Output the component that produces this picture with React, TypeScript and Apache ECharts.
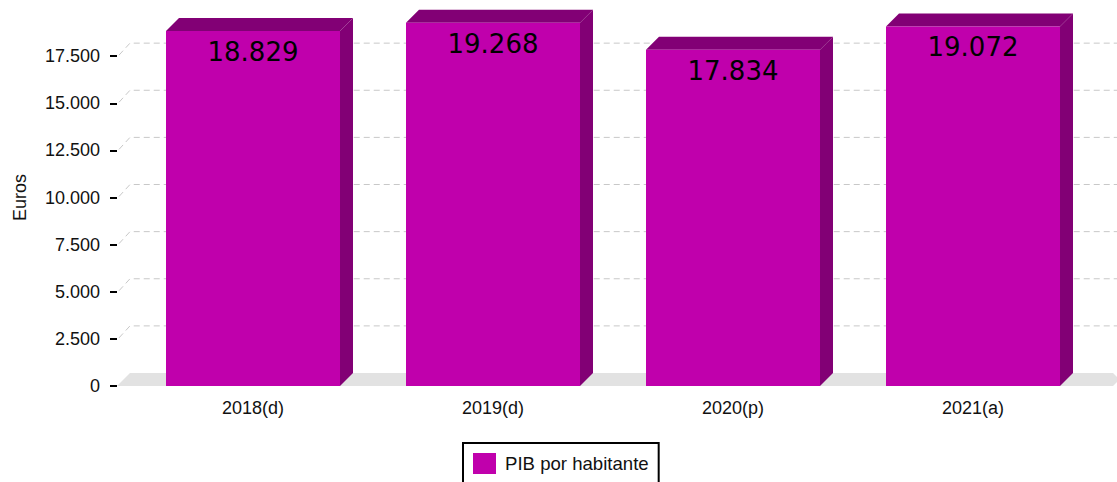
import React, { useEffect, useRef } from "react";
import * as echarts from "echarts";

const categories = ["2018(d)", "2019(d)", "2020(p)", "2021(a)"];
const values = [18829, 19268, 17834, 19072];
const yTicks = [0, 2500, 5000, 7500, 10000, 12500, 15000, 17500];
const seriesName = "PIB por habitante";
const yAxisName = "Euros";

const FRONT = "#C000AC";
const DARK = "#820075";
const DEPTH = 13;
const FONT = '"Liberation Sans", Arial, sans-serif';

const fmt = (v: number) => String(Math.round(v)).replace(/\B(?=(\d{3})+(?!\d))/g, ".");

export default function App() {
  const ref = useRef<HTMLDivElement>(null);
  useEffect(() => {
    if (!ref.current) return;
    const chart = echarts.init(ref.current, undefined, { renderer: "svg" });
    const option: any = {
      animation: false,
      backgroundColor: "#fff",
      grid: { left: 133, right: 24, top: 9, bottom: 96, containLabel: false },
      legend: {
        show: true,
        left: 463,
        top: 443,
        data: [{ name: seriesName, icon: "rect" }],
        itemWidth: 23,
        itemHeight: 21,
        padding: [10, 10, 14, 10],
        borderColor: "#000",
        borderWidth: 2,
        textStyle: { fontSize: 18.6, color: "#111", fontFamily: FONT, padding: [0, 0, 0, 4] },
        selectedMode: false,
      },
      xAxis: {
        type: "category",
        data: categories,
        axisLine: { show: false },
        axisTick: { show: false },
        axisLabel: { fontSize: 18, color: "#111", fontFamily: FONT, margin: 13 },
      },
      yAxis: {
        type: "value",
        min: 0,
        max: 20000,
        interval: 2500,
        offset: 16,
        name: yAxisName,
        nameLocation: "middle",
        nameGap: 88,
        nameTextStyle: { fontSize: 18, color: "#111", fontFamily: FONT },
        axisLine: { show: false },
        axisTick: {
          show: true,
          length: 7,
          customValues: yTicks,
          lineStyle: { color: "#000", width: 2 },
        },
        axisLabel: {
          customValues: yTicks,
          margin: 17,
          fontSize: 18,
          color: "#111",
          fontFamily: FONT,
          formatter: (v: number) => fmt(v),
        },
        splitLine: { show: false },
      },
      series: [
        {
          type: "custom",
          name: "floor",
          silent: true,
          z: 1,
          data: [[0, 0]],
          renderItem: (params: any, api: any) => {
            const cs = params.coordSys;
            const base = api.coord([0, 0])[1];
            const left = cs.x - 16;
            const W = api.getWidth();
            return {
              type: "polygon",
              shape: {
                points: [
                  [left, base],
                  [left + DEPTH, base - DEPTH],
                  [W - 4, base - DEPTH],
                  [W, base - DEPTH + 4],
                  [W, base - 4],
                  [W - 4, base],
                ],
              },
              style: { fill: "#e2e2e2" },
            };
          },
        },
        {
          type: "custom",
          name: "grid",
          silent: true,
          z: 2,
          data: yTicks.filter((v) => v > 0).map((v) => [0, v]),
          renderItem: (params: any, api: any) => {
            const cs = params.coordSys;
            const y = api.coord([0, api.value(1)])[1];
            const left = cs.x - 16;
            const W = api.getWidth();
            return {
              type: "polyline",
              shape: {
                points: [
                  [left + 2, y - 1],
                  [left + DEPTH, y - DEPTH],
                  [W, y - DEPTH],
                ],
              },
              style: { stroke: "#c8c8c8", lineWidth: 1, lineDash: [6, 4], fill: "none" },
            };
          },
        },
        {
          type: "custom",
          name: seriesName,
          z: 3,
          itemStyle: { color: FRONT },
          data: values.map((v, i) => [i, v]),
          renderItem: (params: any, api: any) => {
            const idx = api.value(0);
            const v = api.value(1);
            const top = api.coord([idx, v]);
            const base = api.coord([idx, 0]);
            const w = api.size([1, 0])[0] * 0.725;
            const x0 = top[0] - w / 2;
            const x1 = top[0] + w / 2;
            const ty = top[1];
            const by = base[1];
            return {
              type: "group",
              children: [
                {
                  type: "polygon",
                  shape: {
                    points: [
                      [x0, ty],
                      [x0 + DEPTH, ty - DEPTH],
                      [x1 + DEPTH, ty - DEPTH],
                      [x1, ty],
                    ],
                  },
                  style: { fill: DARK },
                },
                {
                  type: "polygon",
                  shape: {
                    points: [
                      [x1, ty],
                      [x1 + DEPTH, ty - DEPTH],
                      [x1 + DEPTH, by - DEPTH],
                      [x1, by],
                    ],
                  },
                  style: { fill: DARK },
                },
                {
                  type: "rect",
                  shape: { x: x0, y: ty, width: w, height: by - ty },
                  style: { fill: FRONT },
                },
                {
                  type: "text",
                  x: top[0],
                  y: ty + 21,
                  style: {
                    text: fmt(v),
                    fill: "#000",
                    fontSize: 26,
                    fontFamily: '"DejaVu Sans", sans-serif',
                    align: "center",
                    verticalAlign: "middle",
                  },
                },
              ],
            };
          },
        },
      ],
    };
    chart.setOption(option);
    return () => chart.dispose();
  }, []);
  return (
    <div
      ref={ref}
      style={{ position: "fixed", left: 0, top: 0, width: 1117, height: 482 }}
    />
  );
}
